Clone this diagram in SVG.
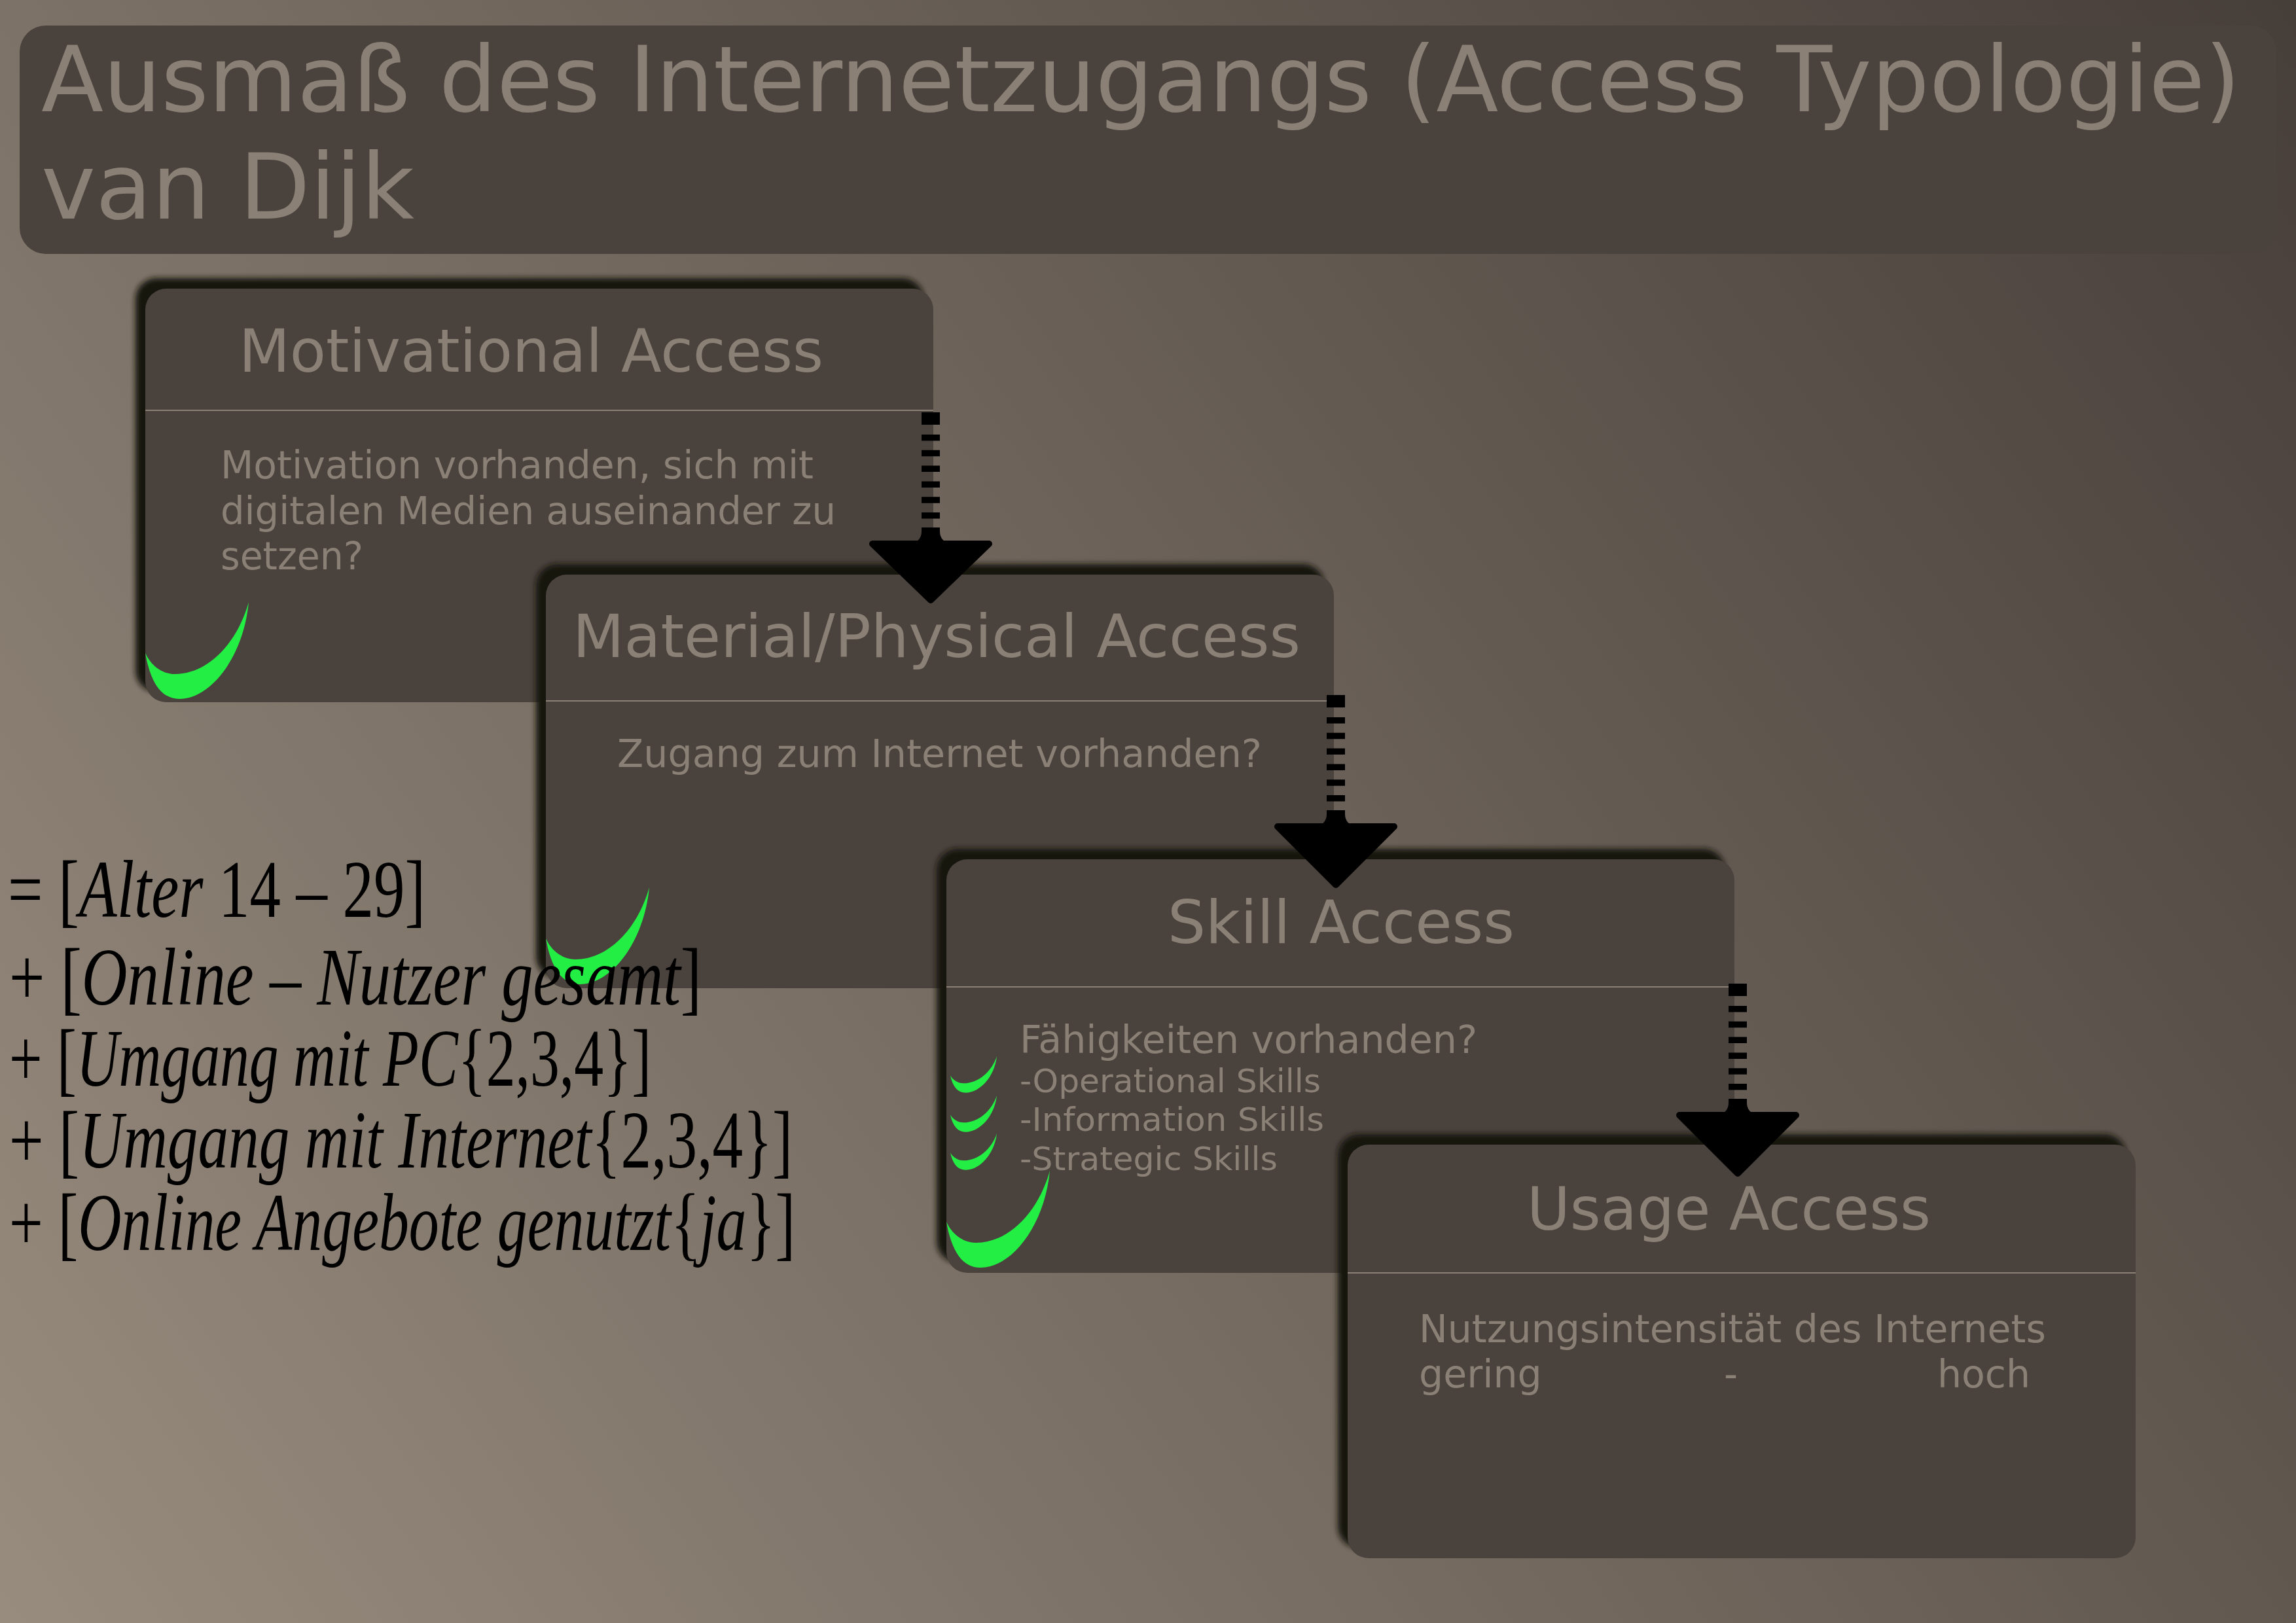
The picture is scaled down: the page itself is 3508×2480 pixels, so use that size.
<svg xmlns="http://www.w3.org/2000/svg" width="3508" height="2480" viewBox="0 0 3508 2480">
<defs>
<linearGradient id="bg" gradientUnits="userSpaceOnUse" x1="0" y1="2480" x2="3508" y2="0">
<stop offset="0" stop-color="#988c7e"/>
<stop offset="1" stop-color="#463e39"/>
</linearGradient>
<filter id="blur" x="-5%" y="-5%" width="110%" height="110%"><feGaussianBlur stdDeviation="4"/></filter>
<path id="check" d="M0,-76 C8,-30 25,-6 52,-6 C100,-6 150,-70 158,-154 C140,-90 95,-44 45,-44 C25,-44 8,-58 0,-76 Z"/>
<style>
.shadow{fill:#141210;filter:url(#blur)}
.box{fill:#4a423d}
.div{stroke:#8a8075;stroke-width:2}
.t{font-family:"DejaVu Sans",sans-serif;fill:#8a8075}
.title{font-size:139px}
.h{font-size:90.5px}
.b{font-size:58.5px}
.s{font-size:50px}
.chk{fill:#22ee44}
.dash{stroke:#000;stroke-width:28;fill:none;stroke-dasharray:19 15 9.5 14.3 9.5 14.3 9.5 14.3 9.5 14.3 9.5 14.3 9.5 13.5 1000}
.head{fill:#000;stroke:#000;stroke-width:10;stroke-linejoin:round}
.f{font-family:"Liberation Serif",serif;font-size:125px;fill:#000}
.i{font-style:italic}
</style>
</defs>
<rect x="0" y="0" width="3508" height="2480" fill="url(#bg)"/>
<g id="title">
<rect x="30" y="39" width="3448" height="349" rx="40" fill="#4a423d"/>
<text class="t title" x="63" y="170" textLength="3360" lengthAdjust="spacingAndGlyphs">Ausmaß des Internetzugangs (Access Typologie)</text>
<text class="t title" x="63" y="334" textLength="570" lengthAdjust="spacingAndGlyphs">van Dijk</text>
</g>
<g id="motivational-access">
<rect class="shadow" x="207" y="425" width="1204" height="632" rx="32"/>
<rect class="box" x="222" y="441" width="1204" height="632" rx="32"/>
<line class="div" x1="222" y1="627" x2="1426" y2="627"/>
<text class="t h" x="365" y="568" textLength="893" lengthAdjust="spacingAndGlyphs">Motivational Access</text>
<text class="t b" x="337" y="731" textLength="906" lengthAdjust="spacingAndGlyphs">Motivation vorhanden, sich mit</text>
<text class="t b" x="337" y="801" textLength="940" lengthAdjust="spacingAndGlyphs">digitalen Medien auseinander zu</text>
<text class="t b" x="337" y="870" textLength="218" lengthAdjust="spacingAndGlyphs">setzen?</text>
<use href="#check" class="chk" transform="translate(222,1074)"/>
</g>
<g id="material-physical-access">
<rect class="shadow" x="819" y="862" width="1204" height="632" rx="32"/>
<rect class="box" x="834" y="878" width="1204" height="632" rx="32"/>
<line class="div" x1="834" y1="1071" x2="2038" y2="1071"/>
<text class="t h" x="875" y="1004" textLength="1112" lengthAdjust="spacingAndGlyphs">Material/Physical Access</text>
<text class="t b" x="943" y="1172" textLength="985" lengthAdjust="spacingAndGlyphs">Zugang zum Internet vorhanden?</text>
<use href="#check" class="chk" transform="translate(834,1510)"/>
</g>
<g id="skill-access">
<rect class="shadow" x="1431" y="1297" width="1204" height="632" rx="32"/>
<rect class="box" x="1446" y="1313" width="1204" height="632" rx="32"/>
<line class="div" x1="1446" y1="1508" x2="2650" y2="1508"/>
<text class="t h" x="1784" y="1441" textLength="530" lengthAdjust="spacingAndGlyphs">Skill Access</text>
<text class="t b" x="1558" y="1609" textLength="699" lengthAdjust="spacingAndGlyphs">Fähigkeiten vorhanden?</text>
<text class="t s" x="1558" y="1669" textLength="460" lengthAdjust="spacingAndGlyphs">-Operational Skills</text>
<text class="t s" x="1558" y="1728" textLength="465" lengthAdjust="spacingAndGlyphs">-Information Skills</text>
<text class="t s" x="1558" y="1788" textLength="394" lengthAdjust="spacingAndGlyphs">-Strategic Skills</text>
<use href="#check" class="chk" transform="translate(1452,1672) scale(0.45,0.378)"/>
<use href="#check" class="chk" transform="translate(1452,1732) scale(0.45,0.378)"/>
<use href="#check" class="chk" transform="translate(1452,1790) scale(0.45,0.378)"/>
<use href="#check" class="chk" transform="translate(1446,1943)"/>
</g>
<g id="usage-access">
<rect class="shadow" x="2044" y="1733" width="1204" height="632" rx="32"/>
<rect class="box" x="2059" y="1749" width="1204" height="632" rx="32"/>
<line class="div" x1="2059" y1="1945" x2="3263" y2="1945"/>
<text class="t h" x="2333" y="1879" textLength="617" lengthAdjust="spacingAndGlyphs">Usage Access</text>
<text class="t b" x="2168" y="2051" textLength="958" lengthAdjust="spacingAndGlyphs">Nutzungsintensität des Internets</text>
<text class="t b" y="2120"><tspan x="2168">gering</tspan><tspan x="2634">-</tspan><tspan x="2960">hoch</tspan></text>
</g>
<g id="connectors">
<line class="dash" x1="1422" y1="630" x2="1422" y2="836"/>
<path class="head" d="M1333,831 L1511,831 L1422,917 Z"/>
<path d="M1408,812 Q1408,826 1394,830 L1450,830 Q1436,826 1436,812 Z"/>
<line class="dash" x1="2041" y1="1062" x2="2041" y2="1268"/>
<path class="head" d="M1952,1263 L2130,1263 L2041,1352 Z"/>
<path d="M2027,1244 Q2027,1258 2013,1262 L2069,1262 Q2055,1258 2055,1244 Z"/>
<line class="dash" x1="2655" y1="1503" x2="2655" y2="1709"/>
<path class="head" d="M2566,1704 L2744,1704 L2655,1793 Z"/>
<path d="M2641,1685 Q2641,1699 2627,1703 L2683,1703 Q2669,1699 2669,1685 Z"/>
</g>
<g id="formula">
<text class="f" x="12" y="1401" textLength="638" lengthAdjust="spacingAndGlyphs">=  [<tspan class="i">Alter</tspan> 14 – 29]</text>
<text class="f" x="14" y="1535" textLength="1058" lengthAdjust="spacingAndGlyphs">+ [<tspan class="i">Online</tspan> – <tspan class="i">Nutzer gesamt</tspan>]</text>
<text class="f" x="14" y="1659" textLength="981" lengthAdjust="spacingAndGlyphs">+ [<tspan class="i">Umgang mit PC</tspan>{2,3,4}]</text>
<text class="f" x="14" y="1784" textLength="1197" lengthAdjust="spacingAndGlyphs">+ [<tspan class="i">Umgang mit Internet</tspan>{2,3,4}]</text>
<text class="f" x="14" y="1910" textLength="1201" lengthAdjust="spacingAndGlyphs">+ [<tspan class="i">Online Angebote genutzt</tspan>{<tspan class="i">ja</tspan>}]</text>
</g>
</svg>
